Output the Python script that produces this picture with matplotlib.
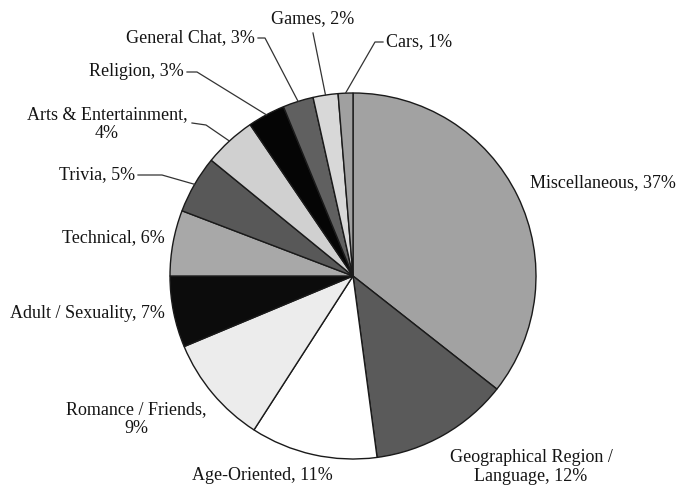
import numpy as np
import matplotlib.pyplot as plt

plt.rcParams['font.family'] = ['Liberation Serif', 'DejaVu Serif']

# data (wedge shares as measured from the slice angles, labels as printed)
categories = ['Miscellaneous', 'Geographical Region / Language', 'Age-Oriented',
              'Romance / Friends', 'Adult / Sexuality', 'Technical', 'Trivia',
              'Arts & Entertainment', 'Religion', 'General Chat', 'Games', 'Cars']
shares = [35.6, 12.3, 11.2, 9.6, 6.3, 5.8, 5.1, 4.6, 3.3, 2.7, 2.2, 1.3]
label_text = ['Miscellaneous, 37%', 'Geographical Region /\nLanguage, 12%',
              'Age-Oriented, 11%', 'Romance / Friends,\n9%', 'Adult / Sexuality, 7%',
              'Technical, 6%', 'Trivia, 5%', 'Arts & Entertainment,\n4%',
              'Religion, 3%', 'General Chat, 3%', 'Games, 2%', 'Cars, 1%']

# styling / layout (pixel coords, y from top)
fills = ['#a2a2a2', '#5a5a5a', '#ffffff', '#ececec', '#0c0c0c', '#a8a8a8',
         '#585858', '#d0d0d0', '#050505', '#606060', '#d8d8d8', '#a0a0a0']
label_pos = [(530, 183, 'left'), (531, 467, 'center'), (192, 475, 'left'),
             (136, 419, 'center'), (165, 313, 'right'), (165, 238, 'right'),
             (135, 175, 'right'), (107, 124, 'center'), (184, 72, 'right'),
             (255, 38, 'right'), (313, 19, 'center'), (386, 42, 'left')]
# leader line elbows (None = no leader)
leaders = [None, None, None, None, None, None,
           [(138, 175), (162, 175)],
           [(192, 123), (206, 125)],
           [(187, 72), (197, 72)],
           [(258, 38), (265, 38)],
           [(313, 33)],
           [(383, 42), (375, 42)]]

W, H = 676, 487
cx, cy, r = 353, 276, 183

fig = plt.figure(figsize=(W / 100, H / 100), dpi=100)
ax = fig.add_axes([0, 0, 1, 1])
wedges, _ = ax.pie(shares, colors=fills, startangle=90, counterclock=False,
                   center=(cx, H - cy), radius=r,
                   wedgeprops=dict(edgecolor='#1a1a1a', linewidth=1.0))
ax.set_xlim(0, W)
ax.set_ylim(0, H)
ax.set_aspect('equal')
ax.axis('off')

for w, txt, (px, py, ha), ld in zip(wedges, label_text, label_pos, leaders):
    ax.text(px, H - py, txt, ha=ha, va='center', fontsize=13,
            color='#141414', linespacing=1.15)
    if ld is not None:
        mid = np.deg2rad((w.theta1 + w.theta2) / 2)
        ex = cx + r * np.cos(mid)
        ey = (H - cy) + r * np.sin(mid)
        xs = [p[0] for p in ld] + [ex]
        ys = [H - p[1] for p in ld] + [ey]
        ax.plot(xs, ys, color='#333333', linewidth=0.9)

fig.savefig('out.png', dpi=100)
